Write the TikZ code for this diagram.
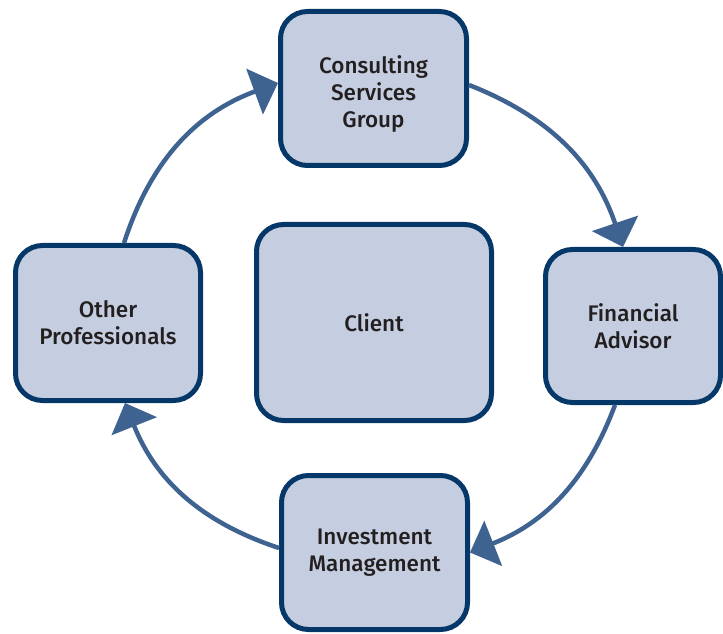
\documentclass[tikz,border=0pt]{standalone}
\usepackage{fontspec}
\setmainfont{Fira Sans}[UprightFont={* Medium}]
\usetikzlibrary{arrows.meta}

\definecolor{boxfill}{HTML}{C5CEE0}
\definecolor{boxline}{HTML}{053768}
\definecolor{flow}{HTML}{3F6391}
\definecolor{ink}{HTML}{231F20}

\tikzset{
  party/.style={draw=boxline, fill=boxfill, line width=5pt, rounded corners=27pt,
    align=center, text=ink, inner sep=0pt,
    font=\fontsize{22.5}{27}\selectfont},
  flowarrow/.style={draw=flow, line width=4.5pt,
    -{Triangle[length=25pt,width=48pt]}}
}

\begin{document}
\begin{tikzpicture}[x=1pt,y=1pt]
  \useasboundingbox (0,0) rectangle (723,633);

  % the five parties
  \node[party, minimum width=186pt, minimum height=154pt] (csg) at (373.5,544.5)
    {\raisebox{0pt}[\dimexpr\height+14pt\relax]{\begin{tabular}{@{}c@{}}Consulting\\Services\\Group\end{tabular}}};
  \node[party, minimum width=175pt, minimum height=153pt] (fa) at (633,307)
    {Financial\\Advisor};
  \node[party, minimum width=186pt, minimum height=154pt] (inv) at (374.5,80.5)
    {Investment\\Management};
  \node[party, minimum width=185pt, minimum height=155pt] (oth) at (108,310)
    {Other\\Professionals};
  \node[party, minimum width=235pt, minimum height=196pt] (cli) at (374,310.5)
    {Client};

  % clockwise cycle around the client
  \draw[flowarrow] ([yshift=3.5pt]csg.east) to[bend left=25] ([xshift=-10pt]fa.north);
  \draw[flowarrow] ([xshift=-18pt]fa.south) to[bend left=24] (inv.east);
  \draw[flowarrow] ([yshift=4.5pt]inv.west) to[bend left=25] ([xshift=17pt]oth.south);
  \draw[flowarrow] ([xshift=16pt]oth.north) to[bend left=26] ([yshift=5.5pt]csg.west);
\end{tikzpicture}
\end{document}
